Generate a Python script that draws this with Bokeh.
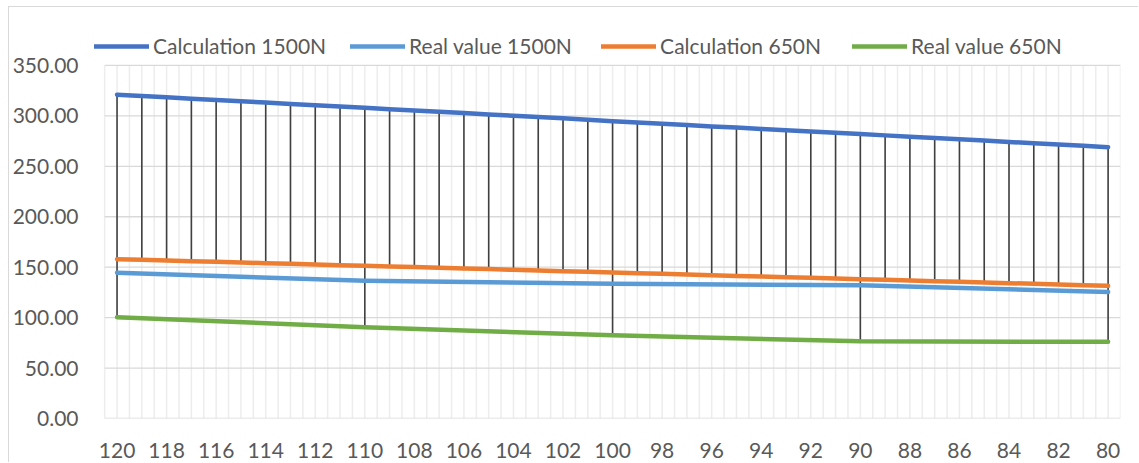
from bokeh.plotting import figure
from bokeh.models import Range1d, FixedTicker, Legend, LegendItem, PrintfTickFormatter
from bokeh.embed import file_html
from bokeh.resources import INLINE

# ---------------- data ----------------
categories = list(range(120, 79, -1))  # 120 ... 80

calc_1500 = [321.0, 319.7, 318.4, 317.1, 315.8, 314.5, 313.2, 311.9, 310.6, 309.3,
             308.0, 306.7, 305.4, 304.1, 302.8, 301.5, 300.2, 298.9, 297.6, 296.3,
             294.8, 293.5, 292.2, 290.9, 289.6, 288.4, 287.1, 285.8, 284.5, 283.2,
             282.0, 280.7, 279.4, 278.1, 276.8, 275.5, 274.2, 272.9, 271.6, 270.3,
             269.0]

calc_650 = [158.0, 157.3, 156.7, 156.0, 155.4, 154.7, 154.0, 153.4, 152.7, 152.0,
            151.4, 150.7, 150.1, 149.4, 148.7, 148.1, 147.4, 146.7, 146.1, 145.4,
            144.8, 144.1, 143.4, 142.8, 142.1, 141.4, 140.8, 140.1, 139.5, 138.8,
            138.1, 137.5, 136.8, 136.1, 135.5, 134.8, 134.2, 133.5, 132.8, 132.2,
            131.5]

real_x = [120, 110, 100, 90, 80]
real_1500 = [144.5, 136.5, 133.5, 132.0, 125.5]
real_650 = [100.5, 90.5, 82.5, 76.5, 76.0]

y_ticks = [0, 50, 100, 150, 200, 250, 300, 350]
x_tick_labels = list(range(120, 79, -2))

# --------------- styling ---------------
FONT = "Lato"
TXT = "#595959"
C1 = "#4472C4"
C2 = "#5B9BD5"
C3 = "#ED7D31"
C4 = "#70AD47"

X_LEFT, X_RIGHT = 120.5, 79.5      # plot-area edges (category boundaries)
Y_TOP = 350

p = figure(width=1130, height=456, output_backend="svg", toolbar_location=None,
           x_range=Range1d(120.91, 79.5), y_range=Range1d(0, 381.7),
           min_border_left=82, min_border_right=19, min_border_top=26, min_border_bottom=45)
p.styles = {"margin-left": "8px", "margin-top": "6px",
            "border-left": "1px solid #D9D9D9", "border-top": "1px solid #D9D9D9"}
p.outline_line_color = None
p.background_fill_color = "white"
p.border_fill_color = "white"
p.xgrid.visible = False
p.ygrid.visible = False

# grid lines drawn inside the plot area only
half_steps = [X_LEFT - 0.5 * i for i in range(int((X_LEFT - X_RIGHT) * 2) + 1)]
p.segment(x0=half_steps, y0=[0] * len(half_steps), x1=half_steps, y1=[Y_TOP] * len(half_steps),
          line_color="#EDEDED", line_width=1.5)
p.segment(x0=[X_LEFT] * len(y_ticks), y0=y_ticks, x1=[X_RIGHT] * len(y_ticks), y1=y_ticks,
          line_color="#D9D9D9", line_width=1.3)

# axes
p.yaxis.ticker = FixedTicker(ticks=y_ticks)
p.yaxis.formatter = PrintfTickFormatter(format="%.2f")
p.yaxis.axis_line_color = None
p.yaxis.major_tick_line_color = None
p.yaxis.minor_tick_line_color = None
p.yaxis.major_label_standoff = 10
p.yaxis.major_label_text_font = FONT
p.yaxis.major_label_text_font_size = "21px"
p.yaxis.major_label_text_color = TXT

p.xaxis.ticker = FixedTicker(ticks=x_tick_labels)
p.xaxis.axis_line_color = None
p.xaxis.major_tick_line_color = None
p.xaxis.minor_tick_line_color = None
p.xaxis.major_label_standoff = 18
p.xaxis.major_label_text_font = FONT
p.xaxis.major_label_text_font_size = "21px"
p.xaxis.major_label_text_color = TXT

# high-low lines
real_1500_map = dict(zip(real_x, real_1500))
real_650_map = dict(zip(real_x, real_650))
tops, bots = [], []
for i, c in enumerate(categories):
    vals = [calc_1500[i], calc_650[i]]
    if c in real_1500_map:
        vals.append(real_1500_map[c])
    if c in real_650_map:
        vals.append(real_650_map[c])
    tops.append(max(vals))
    bots.append(min(vals))
p.segment(x0=categories, y0=tops, x1=categories, y1=bots, line_color="#404040", line_width=1.6)

lw = 4.5
r1 = p.line(categories, calc_1500, line_color=C1, line_width=lw, line_cap="round", line_join="round")
r2 = p.line(real_x, real_1500, line_color=C2, line_width=lw, line_cap="round", line_join="round")
r3 = p.line(categories, calc_650, line_color=C3, line_width=lw, line_cap="round", line_join="round")
r4 = p.line(real_x, real_650, line_color=C4, line_width=lw, line_cap="round", line_join="round")

legend = Legend(items=[LegendItem(label="Calculation 1500N", renderers=[r1]),
                       LegendItem(label="Real value 1500N", renderers=[r2]),
                       LegendItem(label="Calculation 650N", renderers=[r3]),
                       LegendItem(label="Real value 650N", renderers=[r4])],
                orientation="horizontal", location="top_left",
                glyph_width=55, glyph_height=24, label_height=24, label_width=168,
                label_standoff=4, spacing=24, padding=0, margin=0,
                border_line_color=None, background_fill_alpha=0,
                label_text_font=FONT, label_text_font_size="21px", label_text_color=TXT)
p.add_layout(legend, "center")

open("out.html", "w").write(file_html(p, INLINE))
